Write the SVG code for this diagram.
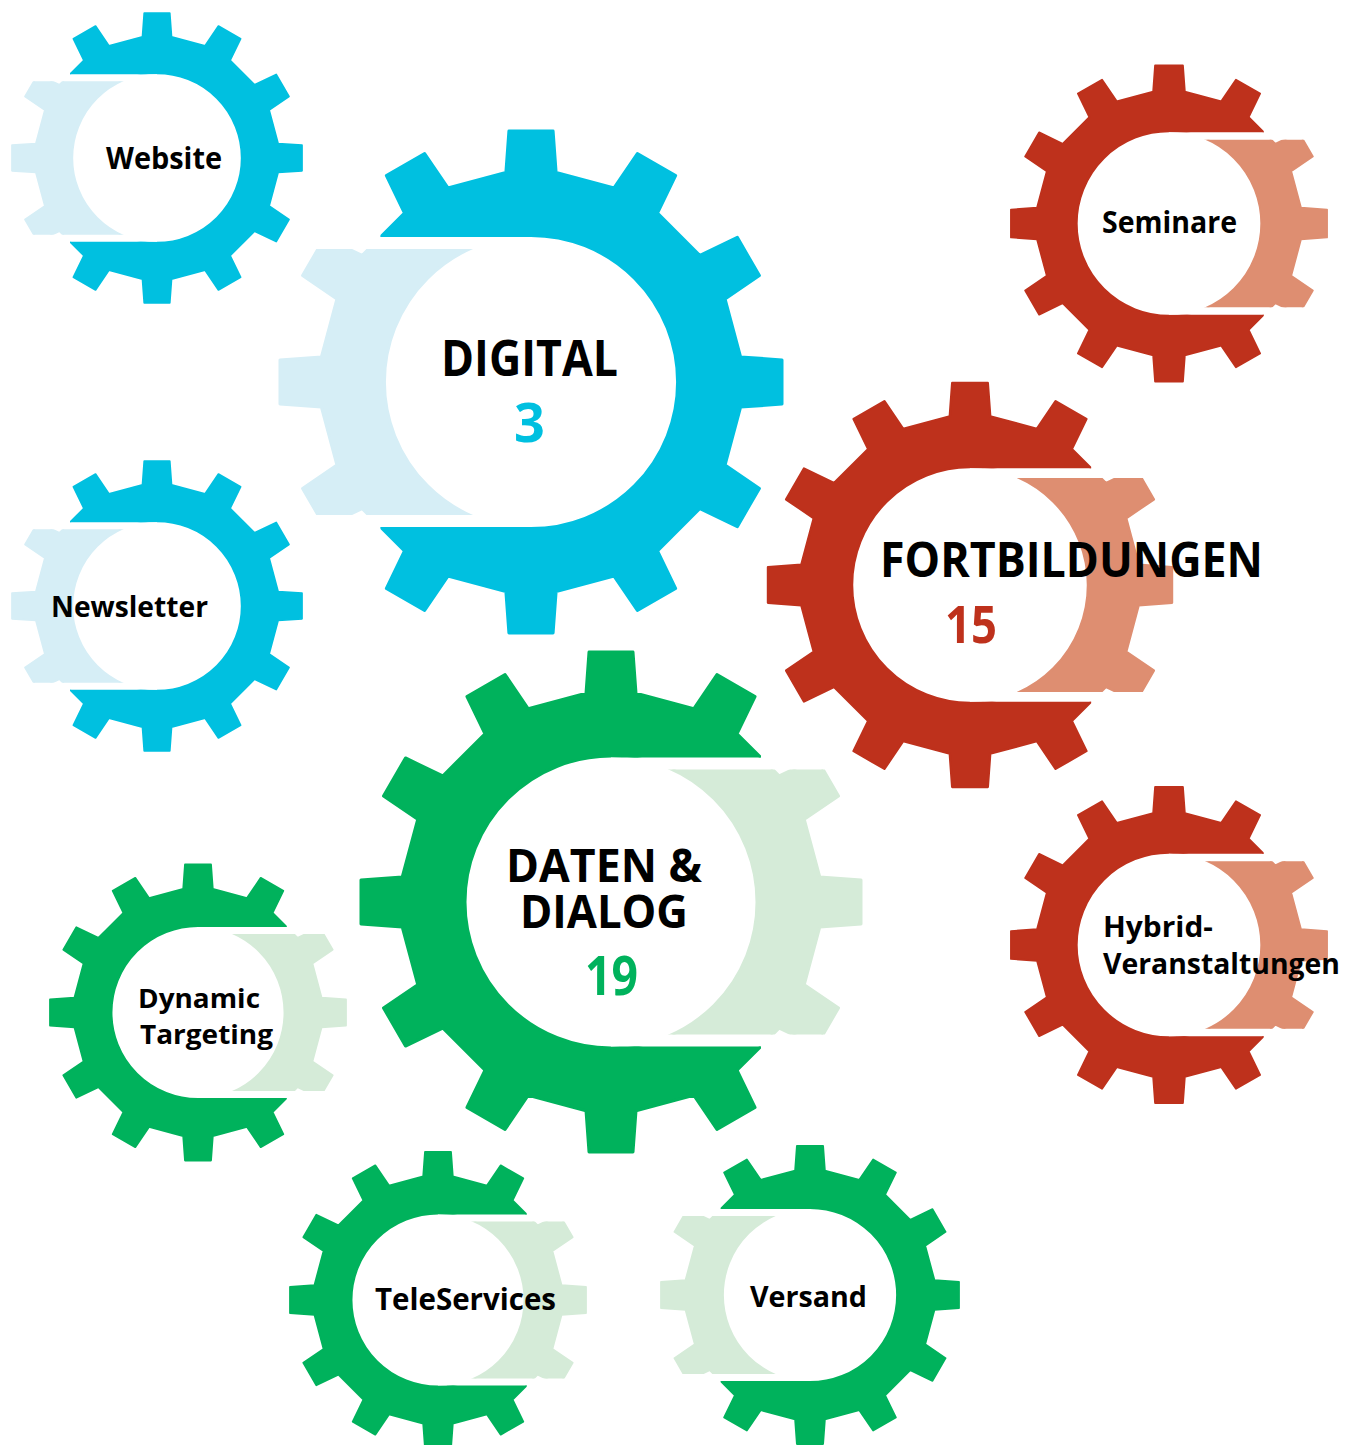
<svg xmlns="http://www.w3.org/2000/svg" xmlns:xlink="http://www.w3.org/1999/xlink" width="1356" height="1445" viewBox="0 0 1356 1445">
<style>
.cm{fill:#00C0E0;stroke:#00C0E0}
.cl{fill:#D6EEF6;stroke:#D6EEF6}
.rm{fill:#BE311C;stroke:#BE311C}
.rl{fill:#DE8E71;stroke:#DE8E71}
.gm{fill:#00B25C;stroke:#00B25C}
.gl{fill:#D5EBD8;stroke:#D5EBD8}
use{stroke-width:1.2;stroke-linejoin:round;fill-rule:evenodd}
text{font-family:"Open Sans","Liberation Sans",sans-serif;font-weight:700;fill:#000}
.n-c{fill:#00C0E0}.n-r{fill:#BE311C}.n-g{fill:#00B25C}
</style>
<defs>
<path id="gear" d="M83.5,-10 L100,-8.8 L100,8.8 L83.5,10 L77.31,33.09 L91,42.38 L82.2,57.62 L67.31,50.41 L50.41,67.31 L57.62,82.2 L42.38,91 L33.09,77.31 L10,83.5 L8.8,100 L-8.8,100 L-10,83.5 L-33.09,77.31 L-42.38,91 L-57.62,82.2 L-50.41,67.31 L-67.31,50.41 L-82.2,57.62 L-91,42.38 L-77.31,33.09 L-83.5,10 L-100,8.8 L-100,-8.8 L-83.5,-10 L-77.31,-33.09 L-91,-42.38 L-82.2,-57.62 L-67.31,-50.41 L-50.41,-67.31 L-57.62,-82.2 L-42.38,-91 L-33.09,-77.31 L-10,-83.5 L-8.8,-100 L8.8,-100 L10,-83.5 L33.09,-77.31 L42.38,-91 L57.62,-82.2 L50.41,-67.31 L67.31,-50.41 L82.2,-57.62 L91,-42.38 L77.31,-33.09 Z M58.4,0 A58.4,58.4 0 1,0 -58.4,0 A58.4,58.4 0 1,0 58.4,0 Z"/>
<clipPath id="mainL"><path d="M-110,-110 H110 V-57.8 H-60 V-58.8 H-110 Z M-110,110 H110 V57.8 H-60 V58.8 H-110 Z"/><rect x="0" y="-57.8" width="110" height="115.6"/></clipPath>
<clipPath id="lightL"><rect x="-110" y="-53" width="110" height="106"/></clipPath>
<clipPath id="mainR"><path d="M-110,-110 H110 V-58.8 H60 V-57.8 H-110 Z M-110,110 H110 V58.8 H60 V57.8 H-110 Z"/><rect x="-110" y="-57.8" width="110" height="115.6"/></clipPath>
<clipPath id="lightR"><rect x="0" y="-53" width="110" height="106"/></clipPath>
</defs>

<g id="node-website">
<g transform="translate(157 158) scale(1.45)"><use href="#gear" class="cm" clip-path="url(#mainL)"/><use href="#gear" class="cl" clip-path="url(#lightL)"/></g>
<text x="106" y="169" font-size="31" textLength="116" lengthAdjust="spacingAndGlyphs">Website</text>
</g>

<g id="node-newsletter">
<g transform="translate(157 606) scale(1.45)"><use href="#gear" class="cm" clip-path="url(#mainL)"/><use href="#gear" class="cl" clip-path="url(#lightL)"/></g>
<text x="51" y="617" font-size="29" textLength="157" lengthAdjust="spacingAndGlyphs">Newsletter</text>
</g>

<g id="node-digital">
<g transform="translate(531 382) scale(2.51)"><use href="#gear" class="cm" clip-path="url(#mainL)"/><use href="#gear" class="cl" clip-path="url(#lightL)"/></g>
<text x="441" y="376" font-size="50" textLength="177" lengthAdjust="spacingAndGlyphs">DIGITAL</text>
<text x="529.5" y="442" font-size="54" text-anchor="middle" class="n-c">3</text>
</g>

<g id="node-seminare">
<g transform="translate(1169 223.5) scale(1.58)"><use href="#gear" class="rm" clip-path="url(#mainR)"/><use href="#gear" class="rl" clip-path="url(#lightR)"/></g>
<text x="1102" y="233" font-size="31" textLength="135" lengthAdjust="spacingAndGlyphs">Seminare</text>
</g>

<g id="node-fortbildungen">
<g transform="translate(970 585) scale(2.02)"><use href="#gear" class="rm" clip-path="url(#mainR)"/><use href="#gear" class="rl" clip-path="url(#lightR)"/></g>
<text x="880" y="577" font-size="48" textLength="383" lengthAdjust="spacingAndGlyphs">FORTBILDUNGEN</text>
<text x="945" y="643" font-size="52" textLength="52" lengthAdjust="spacingAndGlyphs" class="n-r">15</text>
</g>

<g id="node-hybrid">
<g transform="translate(1169 945) scale(1.58)"><use href="#gear" class="rm" clip-path="url(#mainR)"/><use href="#gear" class="rl" clip-path="url(#lightR)"/></g>
<text x="1103" y="937" font-size="29" textLength="110" lengthAdjust="spacingAndGlyphs">Hybrid-</text>
<text x="1103" y="974" font-size="29" textLength="237" lengthAdjust="spacingAndGlyphs">Veranstaltungen</text>
</g>

<g id="node-daten-dialog">
<g transform="translate(611 902) scale(2.5)"><use href="#gear" class="gm" clip-path="url(#mainR)"/><use href="#gear" class="gl" clip-path="url(#lightR)"/></g>
<text x="506" y="882" font-size="47" textLength="196" lengthAdjust="spacingAndGlyphs">DATEN &amp;</text>
<text x="520" y="928" font-size="47" textLength="168" lengthAdjust="spacingAndGlyphs">DIALOG</text>
<text x="585" y="995" font-size="53" textLength="53" lengthAdjust="spacingAndGlyphs" class="n-g">19</text>
</g>

<g id="node-dynamic-targeting">
<g transform="translate(198 1012.5) scale(1.48)"><use href="#gear" class="gm" clip-path="url(#mainR)"/><use href="#gear" class="gl" clip-path="url(#lightR)"/></g>
<text x="138" y="1008" font-size="27" textLength="122" lengthAdjust="spacingAndGlyphs">Dynamic</text>
<text x="140" y="1044" font-size="27" textLength="133" lengthAdjust="spacingAndGlyphs">Targeting</text>
</g>

<g id="node-teleservices">
<g transform="translate(438 1300) scale(1.48)"><use href="#gear" class="gm" clip-path="url(#mainR)"/><use href="#gear" class="gl" clip-path="url(#lightR)"/></g>
<text x="375" y="1310" font-size="30" textLength="181" lengthAdjust="spacingAndGlyphs">TeleServices</text>
</g>

<g id="node-versand">
<g transform="translate(810 1295) scale(1.49)"><use href="#gear" class="gm" clip-path="url(#mainL)"/><use href="#gear" class="gl" clip-path="url(#lightL)"/></g>
<text x="750" y="1307" font-size="29" textLength="117" lengthAdjust="spacingAndGlyphs">Versand</text>
</g>
</svg>
